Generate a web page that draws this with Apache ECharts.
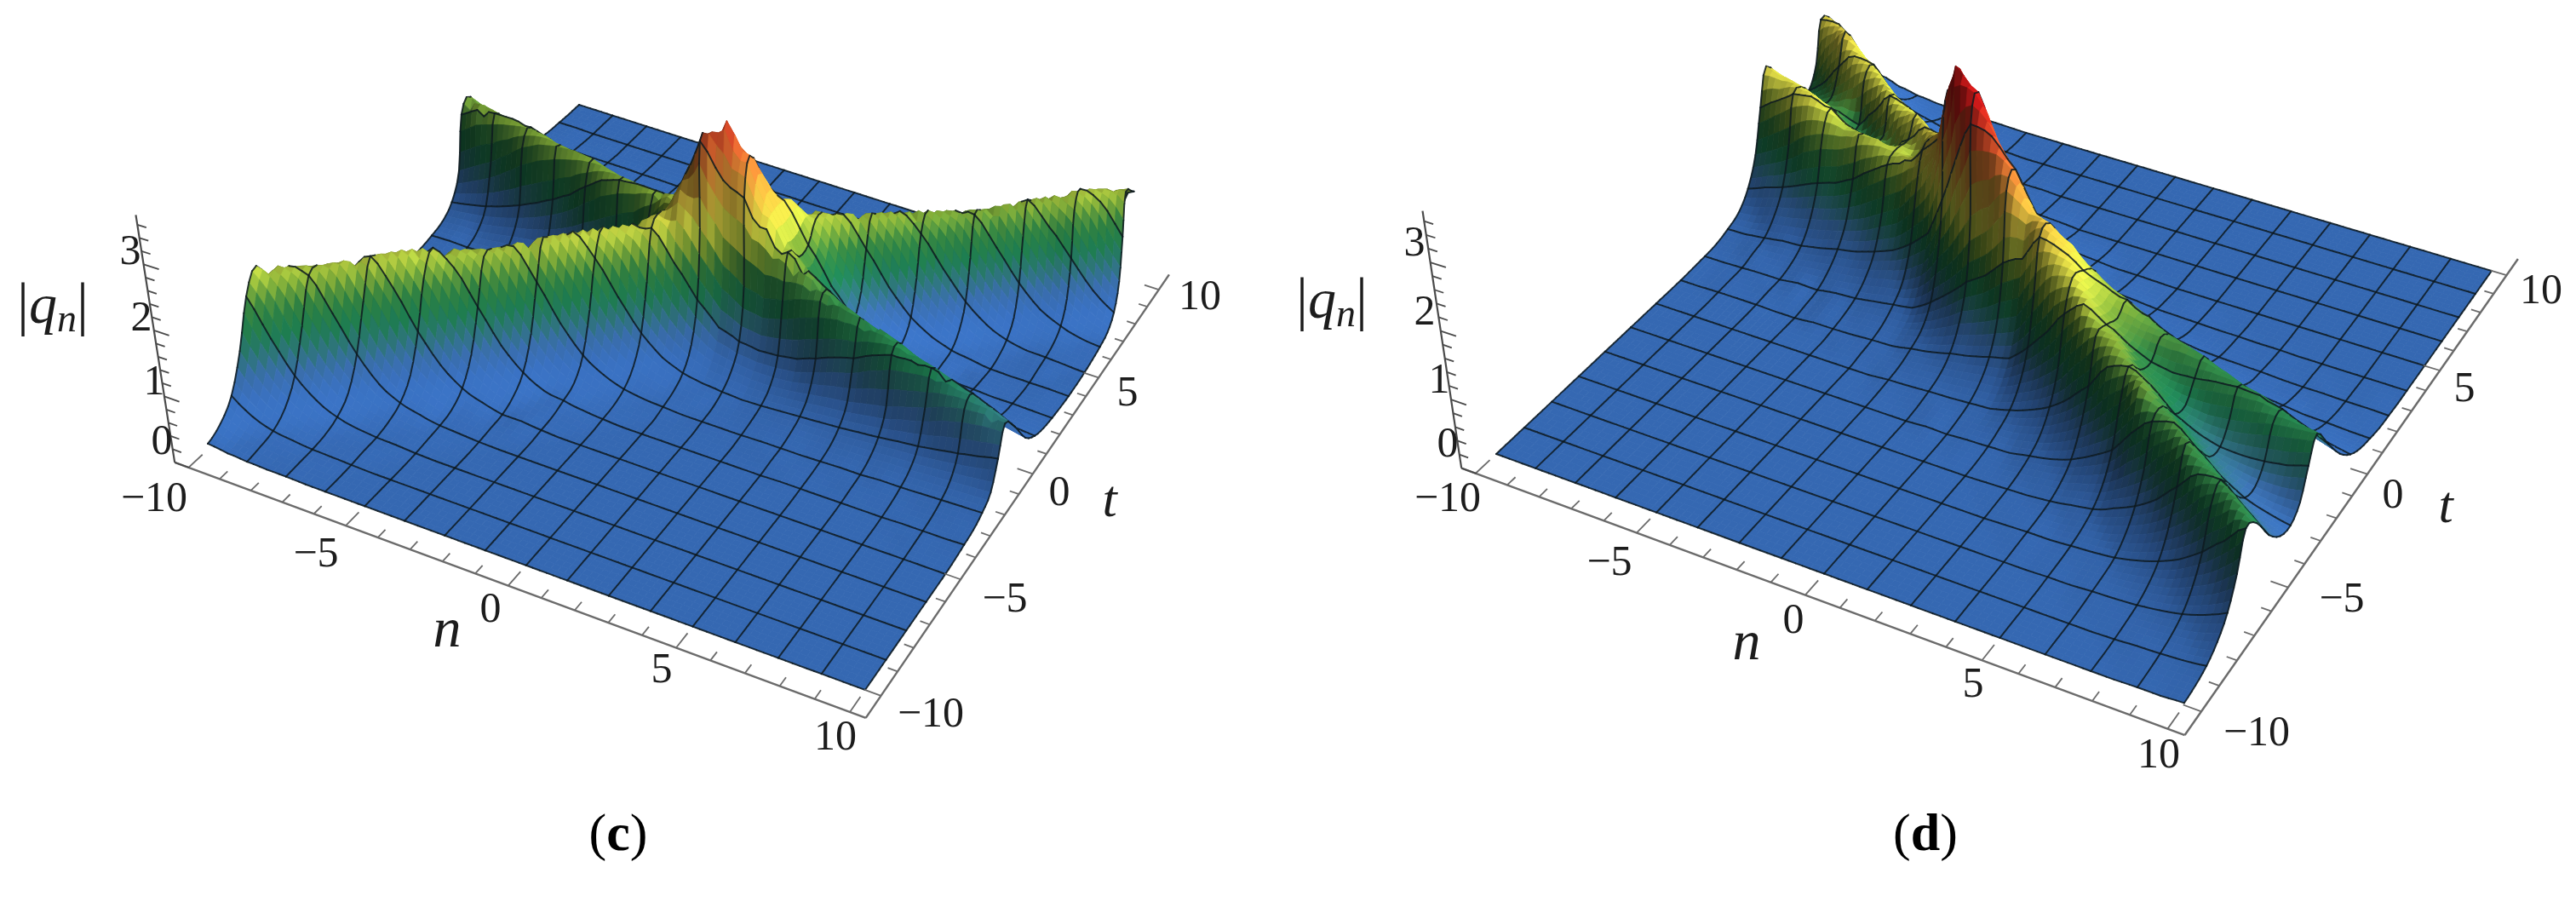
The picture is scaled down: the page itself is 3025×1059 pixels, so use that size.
<!DOCTYPE html>
<html>
<head>
<meta charset="utf-8">
<style>
html, body { margin: 0; background: #fff; }
#chart { width: 3025px; height: 1059px; }
</style>
<script src="https://cdn.jsdelivr.net/npm/echarts@6/dist/echarts.min.js"></script>
</head>
<body>
<div id="chart"></div>
<script>
// tick values and labels
const nTicks = [-10, -5, 0, 5, 10]
const tTicks = [-10, -5, 0, 5, 10]
const qTicks = [0, 1, 2, 3]
const axisText = { '-10': '\u221210', '-5': '\u22125', '0': '0', '5': '5', '10': '10' }

// |q_n| x 100, one row per n (-10 to 10, step 0.625), one value per t (-10 to 10, step 0.625)
const heightsC = [
[8,19,43,93,160,190,134,70,30,13,5,3,2,1,1,1,3,5,9,15,31,68,150,165,80,37,18,10,5,2,1,0,0],
[4,8,21,50,104,168,182,120,61,27,11,5,3,2,1,1,3,5,10,18,37,86,168,150,68,30,14,8,4,2,1,0,0],
[2,5,10,25,57,115,177,173,110,53,23,10,4,3,2,2,2,4,9,19,44,103,172,125,56,24,12,5,3,1,0,0,0],
[1,3,6,12,29,65,127,186,164,98,47,20,8,4,2,2,4,5,11,24,54,125,172,104,45,21,10,5,2,1,0,0,0],
[1,2,3,6,14,32,74,138,192,155,88,40,17,7,5,4,4,8,14,30,66,148,167,85,37,17,9,4,2,0,0,0,0],
[0,1,2,4,7,16,37,83,151,194,145,78,33,14,7,5,6,10,18,35,80,163,156,71,31,15,7,4,2,0,0,0,0],
[0,0,1,3,4,9,19,43,93,160,190,133,68,29,13,7,7,11,20,41,96,170,132,57,26,12,5,3,1,0,0,0,0],
[0,0,0,1,3,5,11,22,50,105,168,180,120,60,27,14,10,14,25,51,114,172,108,46,21,10,5,2,1,0,0,0,0],
[0,0,0,0,1,3,5,10,25,58,116,178,170,109,54,26,16,18,30,64,138,168,91,39,19,9,4,2,0,0,0,0,0],
[0,0,0,0,0,1,3,6,13,29,65,128,187,164,99,51,28,23,36,77,159,156,71,32,15,8,4,2,0,0,0,0,0],
[0,0,0,0,0,0,1,3,5,14,33,75,140,194,155,89,47,35,48,95,169,137,61,27,12,6,3,1,0,0,0,0,0],
[0,0,0,0,0,0,0,2,5,7,15,37,84,153,196,148,86,54,60,112,172,115,50,23,11,5,2,1,0,0,0,0,0],
[0,0,0,0,0,0,0,0,2,4,10,18,44,97,163,196,143,93,84,142,171,95,42,19,8,4,2,1,0,0,0,0,0],
[0,0,0,0,0,0,0,0,0,2,5,9,23,53,110,177,194,148,128,177,169,81,37,17,9,4,2,0,0,0,0,0,0],
[0,0,0,0,0,0,0,0,0,0,2,4,11,28,63,126,197,207,192,213,163,71,32,16,8,4,1,0,0,0,0,0,0],
[0,0,0,0,0,0,0,0,0,0,0,2,6,16,34,77,150,231,262,261,161,70,31,14,7,3,0,0,0,0,0,0,0],
[0,0,0,0,0,0,0,0,0,0,0,0,4,9,20,46,101,198,325,305,182,78,34,15,7,4,1,0,0,0,0,0,0],
[0,0,0,0,0,0,0,0,0,0,0,0,2,7,14,30,66,149,270,352,220,109,49,22,10,5,2,0,0,0,0,0,0],
[0,0,0,0,0,0,0,0,0,0,0,0,2,4,11,25,54,124,251,304,249,157,78,35,16,6,3,2,0,0,0,0,0],
[0,0,0,0,0,0,0,0,0,0,0,0,2,4,9,22,50,115,210,226,223,202,127,64,29,12,5,3,2,0,0,0,0],
[0,0,0,0,0,0,0,0,0,0,0,0,2,5,10,22,52,122,183,158,160,185,177,110,53,23,9,4,3,2,0,0,0],
[0,0,0,0,0,0,0,0,0,0,0,1,3,6,12,25,57,134,162,108,102,141,186,154,92,45,19,8,4,2,1,0,0],
[0,0,0,0,0,0,0,0,0,0,0,2,3,7,14,30,68,141,140,75,59,85,139,181,141,78,35,15,7,3,2,1,0],
[0,0,0,0,0,0,0,0,0,0,1,2,3,7,16,35,80,142,113,54,37,46,85,147,178,130,68,29,12,6,3,2,1],
[0,0,0,0,0,0,0,0,0,0,1,2,4,8,18,39,89,135,86,36,22,26,46,92,150,172,117,59,25,11,5,3,2],
[0,0,0,0,0,0,0,0,0,0,1,2,5,10,21,46,104,127,70,31,14,16,24,51,100,158,165,106,53,23,10,5,3],
[0,0,0,0,0,0,0,0,0,0,1,3,5,11,24,52,115,115,54,24,11,10,12,26,56,111,168,154,97,46,19,8,4],
[0,0,0,0,0,0,0,0,0,0,1,3,7,13,28,62,116,98,43,19,8,4,7,11,28,63,122,175,145,86,40,17,7],
[0,0,0,0,0,0,0,0,0,0,1,3,7,14,31,71,115,78,34,16,7,4,2,5,13,31,72,133,180,138,75,33,14],
[0,0,0,0,0,0,0,0,0,0,2,3,8,16,36,83,107,62,27,12,5,3,1,3,6,16,37,82,143,180,127,66,29],
[0,0,0,0,0,0,0,0,0,1,2,4,9,18,41,90,96,46,20,9,5,2,1,3,5,9,20,47,99,165,185,124,63],
[0,0,0,0,0,0,0,0,0,1,2,5,10,20,47,92,82,36,16,8,4,2,1,0,3,5,10,23,54,110,173,178,114],
[0,0,0,0,0,0,0,0,0,1,3,5,11,22,54,89,65,29,13,6,3,1,0,0,1,3,6,11,27,62,122,183,167]
]
const heightsD = [
[0,0,0,0,0,0,0,0,0,0,0,0,0,0,0,1,2,4,10,19,41,80,143,197,151,108,104,135,196,176,104,57,28],
[0,0,0,0,0,0,0,0,0,0,0,0,0,0,0,1,2,5,11,23,53,97,164,187,139,114,128,178,197,126,70,36,17],
[0,0,0,0,0,0,0,0,0,0,0,0,0,0,1,2,3,9,15,33,63,116,185,178,135,129,165,209,151,84,43,20,10],
[0,0,0,0,0,0,0,0,0,0,0,0,0,0,1,2,4,9,20,39,76,140,190,160,130,150,192,168,102,55,27,12,6],
[0,0,0,0,0,0,0,0,0,0,0,0,0,0,1,3,4,10,22,47,89,153,180,129,117,176,187,117,66,35,18,7,3],
[0,0,0,0,0,0,0,0,0,0,0,0,0,0,0,4,8,14,28,55,99,158,156,112,150,188,131,72,38,19,9,4,2],
[0,0,0,0,0,0,0,0,0,0,0,0,0,0,0,3,7,18,36,65,115,171,143,136,186,153,88,47,24,12,6,3,2],
[0,0,0,0,0,0,0,0,0,0,0,0,0,0,3,7,12,22,42,78,138,173,132,175,174,109,58,30,15,8,4,2,1],
[0,0,0,0,0,0,0,0,0,0,0,0,0,0,3,7,14,28,52,96,158,168,165,191,128,70,36,16,7,3,2,0,0],
[0,0,0,0,0,0,0,0,0,0,0,0,0,2,4,10,19,36,64,114,175,158,195,153,88,45,23,10,5,2,0,0,0],
[0,0,0,0,0,0,0,0,0,0,0,0,0,3,6,12,24,43,84,149,201,205,186,111,59,30,14,6,2,0,0,0,0],
[0,0,0,0,0,0,0,0,0,0,0,0,0,4,7,14,29,61,111,193,231,229,148,80,42,18,9,3,2,0,0,0,0],
[0,0,0,0,0,0,0,0,0,0,0,1,3,6,13,23,48,99,175,290,320,215,120,60,28,12,5,2,0,0,0,0,0],
[0,0,0,0,0,0,0,0,0,0,0,1,4,9,18,36,72,137,250,383,300,172,93,44,21,9,3,1,0,0,0,0,0],
[0,0,0,0,0,0,0,0,0,0,0,2,6,12,26,53,100,185,315,350,230,130,66,32,13,5,0,0,0,0,0,0,0],
[0,0,0,0,0,0,0,0,0,0,2,4,7,16,32,65,120,210,305,245,140,76,37,18,8,3,0,0,0,0,0,0,0],
[0,0,0,0,0,0,0,0,0,0,1,4,9,20,41,80,150,245,262,170,95,48,23,11,5,1,0,0,0,0,0,0,0],
[0,0,0,0,0,0,0,0,0,1,3,6,11,24,49,95,166,218,187,113,61,31,14,6,2,0,0,0,0,0,0,0,0],
[0,0,0,0,0,0,0,0,0,1,4,10,19,39,76,140,210,214,160,91,48,23,11,5,2,0,0,0,0,0,0,0,0],
[0,0,0,0,0,0,0,0,1,2,5,14,30,58,109,177,200,190,126,69,34,16,8,3,1,0,0,0,0,0,0,0,0],
[0,0,0,0,0,0,0,1,2,5,11,22,45,84,148,185,178,159,98,52,27,12,5,2,0,0,0,0,0,0,0,0,0],
[0,0,0,0,0,0,1,2,3,9,17,36,68,123,173,164,164,133,75,40,18,8,4,2,0,0,0,0,0,0,0,0,0],
[0,0,0,0,0,1,2,3,6,13,27,55,97,153,152,143,153,107,59,30,15,6,3,1,0,0,0,0,0,0,0,0,0],
[0,0,0,0,0,1,2,4,11,22,43,81,136,155,132,137,137,88,47,24,10,5,2,0,0,0,0,0,0,0,0,0,0],
[0,0,0,0,1,2,4,8,16,32,62,111,147,123,116,134,118,71,37,18,8,4,2,0,0,0,0,0,0,0,0,0,0],
[0,0,0,0,1,3,6,12,28,53,98,147,129,104,110,133,101,56,30,14,7,3,1,0,0,0,0,0,0,0,0,0,0],
[0,0,0,1,3,5,9,21,42,76,125,128,97,91,112,126,83,46,23,10,6,3,1,0,0,0,0,0,0,0,0,0,0],
[0,0,0,2,4,8,16,33,62,108,134,101,80,87,117,112,68,36,18,8,4,2,0,0,0,0,0,0,0,0,0,0,0],
[0,0,1,3,6,13,26,51,91,133,106,75,70,90,120,97,55,30,14,7,3,2,0,0,0,0,0,0,0,0,0,0,0],
[0,1,3,5,10,20,40,75,120,114,77,62,68,96,118,81,45,22,10,5,3,1,0,0,0,0,0,0,0,0,0,0,0],
[1,2,4,8,16,33,61,106,123,83,57,53,70,105,108,67,35,18,9,4,2,1,0,0,0,0,0,0,0,0,0,0,0],
[1,3,6,12,26,49,87,125,94,59,46,50,75,109,93,54,29,14,7,3,2,1,0,0,0,0,0,0,0,0,0,0,0],
[3,5,10,21,40,73,116,103,66,44,39,52,85,112,77,43,22,11,6,2,1,0,0,0,0,0,0,0,0,0,0,0,0]
]

// colour ramp of the surface against |q_n|
const rampQ = [0, 0.35, 0.6, 0.85, 1.1, 1.4, 1.7, 2.0, 2.6, 3.2, 3.8]
const rampRgb = [[53,104,178],[53,104,178],[55,105,165],[45,115,120],[30,125,80],[50,130,65],[130,170,55],[215,222,70],[225,170,60],[220,90,45],[200,25,25]]

// where each panel sits on the page
const panelC = {
  name: '(c)', corners: [[245,527],[1016,810],[1345,335],[680,123]],
  qVec: [[-12,-77],[-4,-86],[-8,-66],[-12,-62]], heights: heightsC,
  ridgeShift: [0.83, -0.234], colorScale: 1,
  qLabels: [[190,520],[181,450],[166,375],[153,297]],
  nLabels: [[181,587],[371,652],[576,717],[777,788],[981,867]],
  tLabels: [[1093,840],[1180,705],[1244,580],[1324,463],[1409,350]],
  qName: [62,362], nName: [525,742], tName: [1303,590], caption: [726,982]
}
const panelD = {
  name: '(d)', corners: [[1757,533],[2565,828],[2926,318],[2211,106]],
  qVec: [[-12,-80],[-4,-88],[-8,-68],[-12,-64]], heights: heightsD,
  ridgeShift: [-0.69, -0.313], colorScale: 1.12,
  qLabels: [[1700,523],[1690,448],[1673,368],[1661,287]],
  nLabels: [[1700,587],[1890,662],[2106,730],[2317,805],[2535,888]],
  tLabels: [[2650,862],[2750,705],[2810,583],[2894,458],[2984,343]],
  qName: [1564,356], nName: [2051,757], tName: [2872,597], caption: [2261,982]
}
const boxN = 10.45
const boxT = 10.9
const serif = '"Liberation Serif", "Times New Roman", serif'

function homography(c) {
  const [[x0,y0],[x1,y1],[x2,y2],[x3,y3]] = c
  const dx1 = x1-x2, dx2 = x3-x2, sx = x0-x1+x2-x3
  const dy1 = y1-y2, dy2 = y3-y2, sy = y0-y1+y2-y3
  const den = dx1*dy2-dx2*dy1
  const g = (sx*dy2-dx2*sy)/den, h = (dx1*sy-sx*dy1)/den
  return { a:x1-x0+g*x1, b:x3-x0+h*x3, c:x0, d:y1-y0+g*y1, e:y3-y0+h*y3, f:y0, g, h }
}

// page position of a point (n, t, q) of a panel
function project(panel, n, t, q) {
  const u = (n+10)/20, v = (t+10)/20, m = panel.hom
  const w = m.g*u+m.h*v+1
  const px = (m.a*u+m.b*v+m.c)/w, py = (m.d*u+m.e*v+m.f)/w
  const k = panel.qVec
  const bil = i => (1-u)*(1-v)*k[0][i]+u*(1-v)*k[1][i]+u*v*k[2][i]+(1-u)*v*k[3][i]
  return [px+q*bil(0), py+q*bil(1)]
}

function cubic(a, b, c, d, s) {
  return b+0.5*s*(c-a+s*(2*a-5*b+4*c-d+s*(3*(b-c)+d-a)))
}

function columnAt(col, y) {
  const yy = Math.max(0, Math.min(32, y))
  const iy = Math.min(Math.floor(yy), 31), s = yy-iy
  const v = b => col[Math.max(0, Math.min(32, iy+b))]
  return cubic(v(-1), v(0), v(1), v(2), s)
}

// surface height between the read values; between two rows it follows
// whichever ridge direction fits best, so a slanted crest does not turn into teeth
function heightAt(panel, n, t) {
  const table = panel.heights
  const fx = (n+10)/0.625, fy = (t+10)/0.625
  const ix = Math.min(Math.floor(fx), 31), s = fx-ix
  let sum = 0, weight = 0
  panel.ridgeShift.forEach(d => {
    const a = columnAt(table[ix], fy-s*d), b = columnAt(table[ix+1], fy+(1-s)*d)
    const e = a-b, w = 1/((e*e+4)*(e*e+4))
    sum += w*((1-s)*a+s*b)
    weight += w
  })
  return Math.max(0, sum/weight)/100
}

function rampColor(q, shade) {
  let i = 0
  while (i < rampQ.length-2 && q > rampQ[i+1]) i++
  const s = Math.max(0, Math.min(1, (q-rampQ[i])/(rampQ[i+1]-rampQ[i])))
  const c = [0,1,2].map(k => Math.min(255, Math.round((rampRgb[i][k]*(1-s)+rampRgb[i+1][k]*s)*shade)))
  return 'rgb('+c.join(',')+')'
}

// surface cells, far ones first so the near ones cover them
function buildCells(panel) {
  panel.hom = homography(panel.corners)
  const size = 96, step = 20/size, meshEvery = 6, L = [0.75, 0.1, 0.65], gain = 1.5
  const qs = []
  for (let i = 0; i <= size; i++) {
    qs.push([])
    for (let j = 0; j <= size; j++) qs[i].push(heightAt(panel, -10+i*step, -10+j*step))
  }
  const pos = qs.map((col, i) => col.map((q, j) => project(panel, -10+i*step, -10+j*step, q)))
  const shadeAt = (i, j) => {
    const a = Math.max(0,i-1), b = Math.min(size,i+1), c = Math.max(0,j-1), d = Math.min(size,j+1)
    const qn = gain*(qs[b][j]-qs[a][j])/((b-a)*step), qt = gain*(qs[i][d]-qs[i][c])/((d-c)*step)
    const len = Math.hypot(qn, qt, 1)
    const lit = Math.max(0, (-qn*L[0]-qt*L[1]+L[2])/len)
    return Math.min(1.15, 0.38+0.62*lit/L[2])
  }
  const cells = []
  for (let j = size-1; j >= 0; j--) {
    for (let i = 0; i < size; i++) {
      const q = (qs[i][j]+qs[i+1][j]+qs[i][j+1]+qs[i+1][j+1])/4
      const shade = (shadeAt(i,j)+shadeAt(i+1,j)+shadeAt(i,j+1)+shadeAt(i+1,j+1))/4
      const lines = []
      // mesh lines every 1.25, plus the edge of the sheet
      if ((j+1)%meshEvery === 0) lines.push([pos[i][j+1], pos[i+1][j+1]])
      if (i%meshEvery === 0) lines.push([pos[i][j], pos[i][j+1]])
      if (j === 0) lines.push([pos[i][0], pos[i+1][0]])
      if (i === size-1) lines.push([pos[size][j], pos[size][j+1]])
      cells.push({ pts: [pos[i][j], pos[i+1][j], pos[i+1][j+1], pos[i][j+1]], fill: rampColor(q*panel.colorScale, shade), lines })
    }
  }
  return cells
}

function surfaceSeries(panel) {
  const cells = buildCells(panel)
  return {
    type: 'custom', coordinateSystem: 'cartesian2d', silent: true, animation: false,
    progressive: 0, clip: false,
    data: cells.map((c, i) => [c.pts[0][0], c.pts[0][1], i]),
    renderItem: (params, api) => {
      const cell = cells[params.dataIndex]
      const children = [{
        type: 'polygon',
        shape: { points: cell.pts.map(p => api.coord(p)) },
        style: { fill: cell.fill, stroke: cell.fill, lineWidth: 0.8 }
      }]
      cell.lines.forEach(l => {
        const a = api.coord(l[0]), b = api.coord(l[1])
        children.push({
          type: 'line',
          shape: { x1: a[0], y1: a[1], x2: b[0], y2: b[1] },
          style: { stroke: '#0e1a20', lineWidth: 2, lineCap: 'round', opacity: 0.85 }
        })
      })
      return { type: 'group', children }
    }
  }
}

// box edges, ticks and all the text of a panel
function axesSeries(panel) {
  return {
    type: 'custom', coordinateSystem: 'cartesian2d', silent: true, animation: false, clip: false,
    data: [[0, 0]],
    renderItem: (params, api) => {
      const kids = []
      const seg = (a, b, color, width) => {
        const p = api.coord(a), r = api.coord(b)
        kids.push({ type:'line', shape:{ x1:p[0], y1:p[1], x2:r[0], y2:r[1] }, style:{ stroke:color, lineWidth:width } })
      }
      const txt = (pos, text, size, extra) => {
        const p = api.coord(pos)
        kids.push({ type:'text', x:p[0], y:p[1], style:Object.assign({
          text, fill:'#1c1c1c', fontFamily:serif, fontSize:size, textAlign:'center', textVerticalAlign:'middle'
        }, extra || {}) })
      }
      // n axis along the front, t axis along the right, q axis up the near-left corner
      seg(project(panel,-boxN,-boxT,0), project(panel,boxN,-boxT,0), '#6b6b6b', 2.4)
      seg(project(panel,boxN,-boxT,0), project(panel,boxN,boxT,0), '#6b6b6b', 2.4)
      seg(project(panel,-boxN,-boxT,0), project(panel,-boxN,-boxT,3.75), '#4a4a4a', 2.2)
      for (let n = -10; n <= 10; n++) {
        const major = nTicks.includes(n)
        seg(project(panel,n,-boxT,0), project(panel,n,-boxT+(major?0.62:0.36),0), '#6b6b6b', 1.8)
      }
      for (let t = -10; t <= 10; t++) {
        const major = tTicks.includes(t)
        seg(project(panel,boxN,t,0), project(panel,boxN-(major?0.48:0.28),t,0), '#6b6b6b', 1.8)
      }
      for (let i = 0; i <= 18; i++) {
        const q = i*0.2
        const major = qTicks.includes(Math.round(q*10)/10)
        seg(project(panel,-boxN,-boxT,q), project(panel,-boxN+(major?0.48:0.28),-boxT,q), '#4a4a4a', 1.8)
      }
      qTicks.forEach((q, i) => txt(panel.qLabels[i], String(q), 50))
      nTicks.forEach((n, i) => txt(panel.nLabels[i], axisText[n], 50))
      tTicks.forEach((t, i) => txt(panel.tLabels[i], axisText[t], 50))
      txt(panel.nName, 'n', 66, { fontStyle:'italic' })
      txt(panel.tName, 't', 62, { fontStyle:'italic' })
      const p = api.coord(panel.qName)
      kids.push({ type:'text', x:p[0], y:p[1], style:{
        text:'{b||}{q|q}{s|n}{b||}', textAlign:'center', textVerticalAlign:'middle', fill:'#1c1c1c',
        rich:{
          b:{ fontFamily:serif, fontSize:70, lineHeight:76, fill:'#1c1c1c' },
          q:{ fontFamily:serif, fontSize:66, fontStyle:'italic', lineHeight:76, fill:'#1c1c1c' },
          s:{ fontFamily:serif, fontSize:46, fontStyle:'italic', lineHeight:76, verticalAlign:'bottom', fill:'#1c1c1c' }
        }
      } })
      const c = api.coord(panel.caption)
      kids.push({ type:'text', x:c[0], y:c[1], style:{
        text:'{p|(}{b|'+panel.name.slice(1,2)+'}{p|)}', textAlign:'center', textVerticalAlign:'middle', fill:'#000',
        rich:{
          p:{ fontFamily:serif, fontSize:62, fill:'#000' },
          b:{ fontFamily:serif, fontSize:62, fontWeight:'bold', fill:'#000' }
        }
      } })
      return { type:'group', children:kids }
    }
  }
}

const chart = echarts.init(document.getElementById('chart'), null, { renderer: 'canvas' })
chart.setOption({
  animation: false,
  backgroundColor: '#fff',
  grid: { left: 0, right: 0, top: 0, bottom: 0 },
  xAxis: { type: 'value', min: 0, max: 3025, show: false },
  yAxis: { type: 'value', min: 0, max: 1059, inverse: true, show: false },
  series: [surfaceSeries(panelC), axesSeries(panelC), surfaceSeries(panelD), axesSeries(panelD)]
})
</script>
</body>
</html>
